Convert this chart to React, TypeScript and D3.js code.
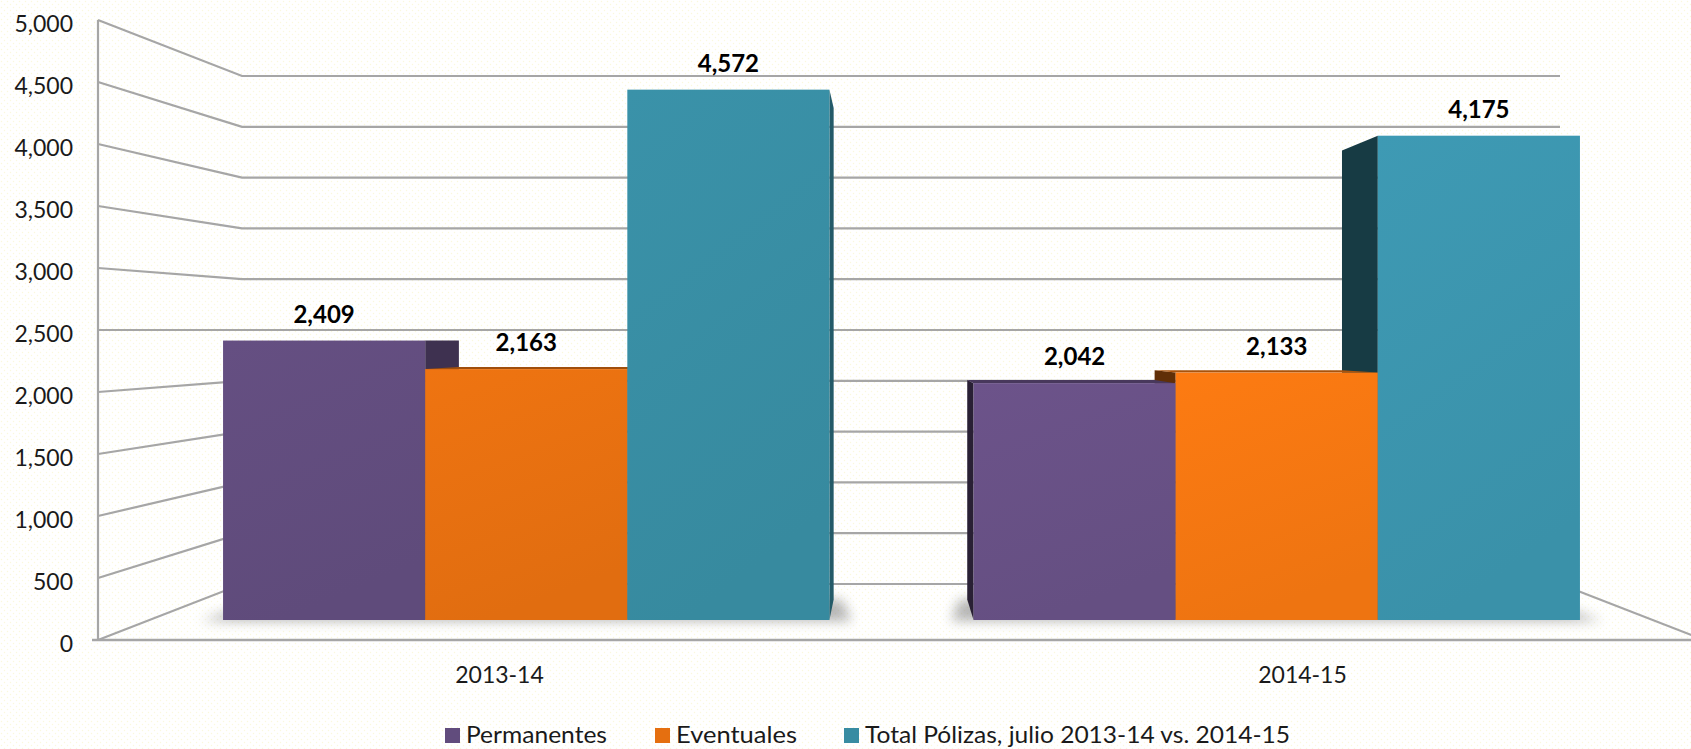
import React from "react";
import * as d3 from "d3";

// ---------- data ----------
const categories = ["2013-14", "2014-15"];
const seriesNames = ["Permanentes", "Eventuales", "Total Pólizas, julio 2013-14 vs. 2014-15"];
const permanentes = [2409, 2042];
const eventuales = [2163, 2133];
const totalPolizas = [4572, 4175];
const yTicks = [0, 500, 1000, 1500, 2000, 2500, 3000, 3500, 4000, 4500, 5000];
const seriesColors = ["#614c7d", "#e56f10", "#388ca2"];

// ---------- layout ----------
const W = 1691;
const H = 749;
const FONT = "Lato, 'Open Sans', 'DejaVu Sans', sans-serif";
const VP = { x: 887, y: 340 };
const K = 0.073;
const BASE = 620;

const yFront = d3.scaleLinear().domain([0, 5000]).range([640, 20]);
const yBack = d3.scaleLinear().domain([0, 5000]).range([584, 76]);
const yBar = d3.scaleLinear().domain([0, 5000]).range([BASE, 40]);
const xLabel = d3.scaleBand().domain(categories).range([98, 1704]);
const xGroup = d3
  .scaleBand()
  .domain(categories)
  .range([151, 1652])
  .paddingInner(0.192)
  .paddingOuter(0.096);
const xSeries = d3.scaleBand().domain(seriesNames).range([0, xGroup.bandwidth()]);

const WALL_LEFT = 98;
const WALL_BACK_L = 242;
const WALL_BACK_R = 1560;
const FLOOR_RIGHT = 1704;

const legendLayout = [
  { x: 445, w: 141 },
  { x: 655, w: 121 },
  { x: 844, w: 425 },
];

type P = { x: number; y: number };
const back = (p: P): P => ({ x: p.x + K * (VP.x - p.x), y: p.y + K * (VP.y - p.y) });
const pts = (a: P[]) => a.map((p) => `${p.x},${p.y}`).join(" ");

export default function App() {
  const allSeries = [permanentes, eventuales, totalPolizas];
  const bars: {
    key: string;
    x0: number;
    x1: number;
    top: number;
    value: number;
    color: string;
    gi: number;
  }[] = [];
  categories.forEach((c, gi) => {
    seriesNames.forEach((s, si) => {
      const x0 = (xGroup(c) as number) + (xSeries(s) as number);
      const x1 = x0 + xSeries.bandwidth();
      const v = allSeries[si][gi];
      const col = d3.color(seriesColors[si])!.brighter(gi * 0.16).formatHex();
      bars.push({ key: `${c}-${si}`, x0, x1, top: yBar(v), value: v, color: col, gi });
    });
  });

  const sides: JSX.Element[] = [];
  const tops: JSX.Element[] = [];
  bars.forEach((b) => {
    const TL = { x: b.x0, y: b.top };
    const TR = { x: b.x1, y: b.top };
    const BL = { x: b.x0, y: BASE };
    const BR = { x: b.x1, y: BASE };
    if (b.x1 < VP.x) {
      sides.push(
        <polygon
          key={"s" + b.key}
          points={pts([TR, back(TR), back(BR), BR])}
          fill={d3.color(b.color)!.darker(1.25).formatHex()}
        />
      );
    } else if (b.x0 > VP.x) {
      sides.push(
        <polygon
          key={"s" + b.key}
          points={pts([TL, back(TL), back(BL), BL])}
          fill={d3.color(b.color)!.darker(2.6).formatHex()}
        />
      );
    }
    if (b.top > VP.y) {
      tops.push(
        <polygon
          key={"t" + b.key}
          points={pts([TL, TR, back(TR), back(TL)])}
          fill={d3.color(b.color)!.darker(1.0).formatHex()}
        />
      );
    }
  });

  const fmt = d3.format(",");

  return (
    <svg
      width={W}
      height={H}
      style={{ position: "absolute", left: 0, top: 0, display: "block" }}
      fontFamily={FONT}
    >
      <defs>
        <pattern id="dots" width="6" height="6" patternUnits="userSpaceOnUse">
          <rect width="6" height="6" fill="#ffffff" />
          <circle cx="1.5" cy="1.5" r="0.7" fill="#fbf8dc" />
          <circle cx="4.5" cy="4.5" r="0.7" fill="#fbf8dc" />
        </pattern>
        <filter id="blur" x="-20%" y="-200%" width="140%" height="500%">
          <feGaussianBlur stdDeviation="6" />
        </filter>
        {bars.map((b) => (
          <linearGradient key={"g" + b.key} id={"g" + b.key} x1="0" y1="0" x2="0.3" y2="1">
            <stop offset="0" stopColor={d3.color(b.color)!.brighter(0.12).formatHex()} />
            <stop offset="1" stopColor={d3.color(b.color)!.darker(0.05).formatHex()} />
          </linearGradient>
        ))}
      </defs>
      <rect width={W} height={H} fill="url(#dots)" />

      {/* walls */}
      <g stroke="#a6a6a6" strokeWidth={2.2} fill="none">
        {yTicks.map((t) => (
          <polyline
            key={"w" + t}
            points={pts([
              { x: WALL_LEFT, y: yFront(t) },
              { x: WALL_BACK_L, y: yBack(t) },
              { x: WALL_BACK_R, y: yBack(t) },
            ])}
          />
        ))}
        <line x1={WALL_LEFT} x2={WALL_LEFT} y1={yFront(5000)} y2={yFront(0)} />
        <line x1={WALL_BACK_R} y1={yBack(0)} x2={FLOOR_RIGHT} y2={yFront(0)} />
        <line x1={WALL_LEFT - 6} x2={FLOOR_RIGHT} y1={yFront(0)} y2={yFront(0)} strokeWidth={2.6} />
      </g>

      {/* floor shadows */}
      {categories.map((c) => {
        const x0 = xGroup(c) as number;
        const x1 = x0 + xGroup.bandwidth();
        const bl = back({ x: x0, y: BASE });
        const br = back({ x: x1, y: BASE });
        return (
          <polygon
            key={"sh" + c}
            points={pts([
              { x: x0 - 22, y: BASE + 1 },
              { x: x1 + 22, y: BASE + 1 },
              { x: br.x + 8, y: br.y },
              { x: bl.x - 8, y: bl.y },
            ])}
            fill="#7a7a7a"
            opacity={0.55}
            filter="url(#blur)"
          />
        );
      })}

      {/* bars */}
      {sides}
      {tops}
      {bars.map((b) => (
        <rect
          key={"f" + b.key}
          x={b.x0}
          y={b.top}
          width={b.x1 - b.x0}
          height={BASE - b.top}
          fill={`url(#g${b.key})`}
        />
      ))}

      {/* data labels */}
      {bars.map((b) => (
        <text
          key={"l" + b.key}
          x={(b.x0 + b.x1) / 2}
          y={b.top - 18}
          textAnchor="middle"
          fontWeight="bold"
          fontSize={24}
          fill="#000"
        >
          {fmt(b.value)}
        </text>
      ))}

      {/* y tick labels */}
      {yTicks.map((t) => (
        <text
          key={"yt" + t}
          x={73}
          y={yFront(t) + 3}
          textAnchor="end"
          dominantBaseline="central"
          fontSize={23}
          fill="#1a1a1a"
        >
          {fmt(t)}
        </text>
      ))}

      {/* category labels */}
      {categories.map((c) => (
        <text
          key={"c" + c}
          x={(xLabel(c) as number) + xLabel.bandwidth() / 2}
          y={683}
          textAnchor="middle"
          fontSize={23}
          fill="#1a1a1a"
        >
          {c}
        </text>
      ))}

      {/* legend */}
      {seriesNames.map((s, i) => (
        <g key={"lg" + s} transform={`translate(${legendLayout[i].x},0)`}>
          <rect x={0} y={728} width={15} height={15} fill={seriesColors[i]} />
          <text
            x={21}
            y={743}
            fontSize={23}
            fill="#1a1a1a"
            textLength={legendLayout[i].w}
            lengthAdjust="spacingAndGlyphs"
          >
            {s}
          </text>
        </g>
      ))}
    </svg>
  );
}
